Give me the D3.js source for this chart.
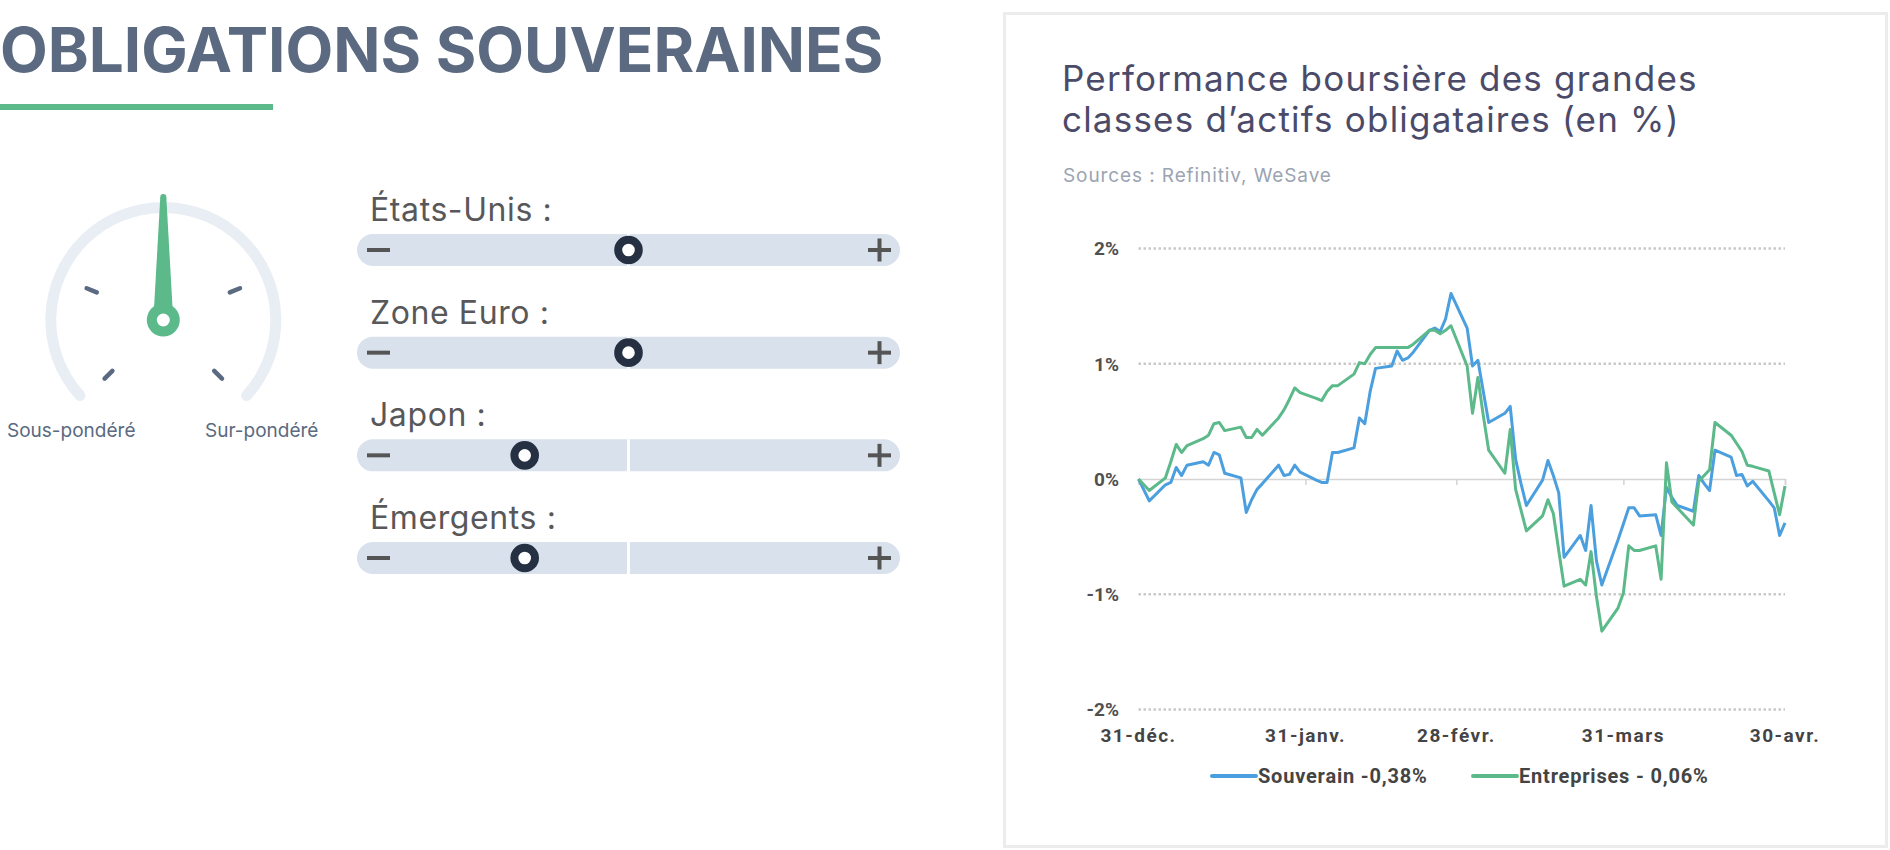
<!DOCTYPE html>
<html>
<head>
<meta charset="utf-8">
<script src="https://cdn.jsdelivr.net/npm/d3@7"></script>
<style>
  body { margin: 0; background: #fff; }
  svg text { font-family: Inter, "Noto Sans", sans-serif; }
  .axis-lbl { font-family: Roboto, Inter, sans-serif; font-weight: 700; }
</style>
</head>
<body>
<svg id="page" width="1890" height="850"></svg>
<script>
// chart data
var dates = ["2020-12-31","2021-01-02","2021-01-05","2021-01-06","2021-01-07","2021-01-08","2021-01-09",
  "2021-01-12","2021-01-13","2021-01-14","2021-01-15","2021-01-16","2021-01-19","2021-01-20","2021-01-21",
  "2021-01-22","2021-01-23","2021-01-26","2021-01-27","2021-01-28","2021-01-29","2021-01-30","2021-02-02",
  "2021-02-03","2021-02-04","2021-02-05","2021-02-06","2021-02-09","2021-02-10","2021-02-11","2021-02-12",
  "2021-02-13","2021-02-16","2021-02-17","2021-02-18","2021-02-19","2021-02-20","2021-02-23","2021-02-24",
  "2021-02-25","2021-02-26","2021-02-27","2021-03-02","2021-03-03","2021-03-04","2021-03-05","2021-03-06",
  "2021-03-09","2021-03-10","2021-03-11","2021-03-12","2021-03-13","2021-03-16","2021-03-17","2021-03-18",
  "2021-03-19","2021-03-20","2021-03-23","2021-03-24","2021-03-25","2021-03-26","2021-03-27","2021-03-30",
  "2021-03-31","2021-04-01","2021-04-02","2021-04-03","2021-04-06","2021-04-07","2021-04-08","2021-04-09",
  "2021-04-10","2021-04-13","2021-04-14","2021-04-15","2021-04-16","2021-04-17","2021-04-20","2021-04-21",
  "2021-04-22","2021-04-23","2021-04-24","2021-04-27","2021-04-28","2021-04-29","2021-04-30"];

var souverain = [0.00,-0.19,-0.05,-0.03,0.10,0.03,0.12,
  0.15,0.12,0.23,0.21,0.05,0.01,-0.29,-0.18,
  -0.09,-0.04,0.12,0.03,0.04,0.12,0.06,-0.01,
  -0.03,-0.03,0.23,0.23,0.27,0.53,0.48,0.76,
  0.96,0.98,1.11,1.03,1.05,1.10,1.29,1.31,
  1.28,1.39,1.61,1.31,0.98,1.03,0.76,0.49,
  0.57,0.63,0.17,-0.04,-0.23,-0.01,0.16,0.03,
  -0.12,-0.68,-0.49,-0.62,-0.23,-0.71,-0.92,-0.53,
  -0.39,-0.25,-0.25,-0.32,-0.31,-0.49,-0.07,-0.16,
  -0.23,-0.28,0.03,-0.04,-0.10,0.25,0.19,0.03,
  0.04,-0.06,-0.02,-0.19,-0.25,-0.49,-0.38];

var entreprises = [0.00,-0.10,0.01,0.15,0.30,0.23,0.29,
  0.35,0.38,0.48,0.49,0.42,0.45,0.36,0.36,
  0.43,0.38,0.53,0.60,0.69,0.79,0.75,0.70,
  0.68,0.76,0.81,0.81,0.91,1.01,1.00,1.08,
  1.14,1.14,1.14,1.14,1.14,1.17,1.29,1.29,
  1.26,1.29,1.33,0.98,0.57,0.88,0.55,0.25,
  0.05,0.43,-0.09,-0.27,-0.45,-0.32,-0.18,-0.30,
  -0.62,-0.93,-0.87,-0.92,-0.63,-1.02,-1.32,-1.12,
  -0.99,-0.58,-0.62,-0.62,-0.58,-0.87,0.14,-0.20,
  -0.25,-0.40,-0.02,0.03,0.08,0.49,0.38,0.31,
  0.24,0.12,0.11,0.07,-0.12,-0.31,-0.06];

var seriesNames = ["Souverain -0,38%", "Entreprises - 0,06%"];
var seriesColors = ["#4c9fdf", "#5bb98a"];
var yTicks = [-2, -1, 0, 1, 2];
var xTicks = ["2020-12-31","2021-01-31","2021-02-28","2021-03-31","2021-04-30"];
var xTickLabels = ["31-déc.","31-janv.","28-févr.","31-mars","30-avr."];

// left panel
var regions = ["États-Unis :", "Zone Euro :", "Japon :", "Émergents :"];
var regionScores = [0, 0, -1, -1];
var gaugeScore = 0;
var gaugeSteps = [-2, -1, 1, 2];
var gaugeLabels = ["Sous-pondéré", "Sur-pondéré"];

var svg = d3.select("#page");
var parse = d3.timeParse("%Y-%m-%d");

// ---- heading
svg.append("text")
  .attr("x", 0)
  .attr("y", 72)
  .attr("style", "font-size:62px;font-weight:700;fill:#5b6a80")
  .text("OBLIGATIONS SOUVERAINES");

svg.append("rect")
  .attr("x", 0)
  .attr("y", 104)
  .attr("width", 273)
  .attr("height", 6)
  .attr("fill", "#5bb98a");

// ---- gauge
var deg = Math.PI / 180;
var gaugeAngle = d3.scaleLinear().domain([-2, 2]).range([-135, 135]);
var gauge = svg.append("g").attr("transform", "translate(163.3,320)");

gauge.append("path")
  .attr("d", d3.arc().innerRadius(107).outerRadius(118)
    .startAngle(gaugeAngle(-2) * deg).endAngle(gaugeAngle(2) * deg).cornerRadius(5.5)())
  .attr("fill", "#e9eef4");

gauge.selectAll(".step").data(gaugeSteps).enter()
  .append("line")
  .attr("class", "step")
  .attr("x1", 0).attr("y1", -72)
  .attr("x2", 0).attr("y2", -83)
  .attr("transform", function(d) { return "rotate(" + gaugeAngle(d) + ")"; })
  .attr("stroke", "#5a6a80")
  .attr("stroke-width", 4.5)
  .attr("stroke-linecap", "round");

var needle = gauge.append("g").attr("transform", "rotate(" + gaugeAngle(gaugeScore) + ")");
needle.append("path")
  .attr("d", "M-3,-123 L3,-123 L9.5,-8 L-9.5,-8 Z")
  .attr("fill", "#5bb98a");
needle.append("circle").attr("cx", 0).attr("cy", -123).attr("r", 3).attr("fill", "#5bb98a");
gauge.append("circle").attr("r", 16.5).attr("fill", "#5bb98a");
gauge.append("circle").attr("r", 6.5).attr("fill", "#fff");

svg.append("text")
  .attr("x", 7).attr("y", 437)
  .attr("style", "font-size:19px;fill:#5a6a80")
  .text(gaugeLabels[0]);
svg.append("text")
  .attr("x", 205).attr("y", 437)
  .attr("style", "font-size:19px;fill:#5a6a80")
  .text(gaugeLabels[1]);

// ---- sliders
var barX = 357, barW = 543, barH = 32;
var knobX = d3.scaleLinear().domain([-2.5, 2.5]).range([369, 888]);
var rowY = d3.scaleLinear().domain([0, 3]).range([234, 542]);

var rows = svg.selectAll(".row").data(regions).enter()
  .append("g")
  .attr("class", "row")
  .attr("transform", function(d, i) { return "translate(0," + rowY(i) + ")"; });

rows.append("text")
  .attr("x", 370).attr("y", -13)
  .attr("style", "font-size:32px;letter-spacing:0.6px;fill:#58585a")
  .text(function(d) { return d; });

rows.append("rect")
  .attr("x", barX).attr("y", 0)
  .attr("width", barW).attr("height", barH)
  .attr("rx", barH / 2)
  .attr("fill", "#d9e1ec");

rows.append("rect")
  .attr("x", knobX(0) - 1.5).attr("y", 0)
  .attr("width", 3).attr("height", barH)
  .attr("fill", "#fff");

rows.append("line")
  .attr("x1", 367).attr("x2", 390)
  .attr("y1", barH / 2).attr("y2", barH / 2)
  .attr("stroke", "#555").attr("stroke-width", 4);
rows.append("line")
  .attr("x1", 868).attr("x2", 891)
  .attr("y1", barH / 2).attr("y2", barH / 2)
  .attr("stroke", "#555").attr("stroke-width", 4);
rows.append("line")
  .attr("x1", 879.5).attr("x2", 879.5)
  .attr("y1", barH / 2 - 11.5).attr("y2", barH / 2 + 11.5)
  .attr("stroke", "#555").attr("stroke-width", 4);

rows.append("circle")
  .attr("cx", function(d, i) { return knobX(regionScores[i]); })
  .attr("cy", barH / 2)
  .attr("r", 10.3)
  .attr("fill", "#fff")
  .attr("stroke", "#253142")
  .attr("stroke-width", 8);

// ---- card
svg.append("rect")
  .attr("x", 1004.5).attr("y", 13.5)
  .attr("width", 882).attr("height", 833)
  .attr("fill", "#fff")
  .attr("stroke", "#ececec")
  .attr("stroke-width", 3);

svg.append("text")
  .attr("x", 1062).attr("y", 91)
  .attr("style", "font-size:35px;letter-spacing:1.2px;fill:#4b4b69")
  .text("Performance boursière des grandes");
svg.append("text")
  .attr("x", 1062).attr("y", 132)
  .attr("style", "font-size:35px;letter-spacing:1.2px;fill:#4b4b69")
  .text("classes d’actifs obligataires (en %)");
svg.append("text")
  .attr("x", 1063).attr("y", 182)
  .attr("style", "font-size:19px;letter-spacing:0.9px;fill:#9ba4b2")
  .text("Sources : Refinitiv, WeSave");

// ---- line chart
var x = d3.scaleTime()
  .domain([parse(xTicks[0]), parse(xTicks[xTicks.length - 1])])
  .range([1138.5, 1785]);
var y = d3.scaleLinear().domain([-2, 2]).range([709.5, 248.5]);

svg.selectAll(".grid").data(yTicks.filter(function(d) { return d != 0; })).enter()
  .append("line")
  .attr("class", "grid")
  .attr("x1", x.range()[0]).attr("x2", x.range()[1])
  .attr("y1", function(d) { return y(d); })
  .attr("y2", function(d) { return y(d); })
  .attr("stroke", "#c9c9c9")
  .attr("stroke-width", 2.5)
  .attr("stroke-dasharray", "2.5,2.5");

svg.selectAll(".ylbl").data(yTicks).enter()
  .append("text")
  .attr("class", "ylbl axis-lbl")
  .attr("x", 1119)
  .attr("y", function(d) { return y(d); })
  .attr("dy", "0.36em")
  .attr("text-anchor", "end")
  .attr("style", "font-size:19px;fill:#505050")
  .text(function(d) { return d + "%"; });

// zero line works as the x axis, ticks pointing down
var xAxis = d3.axisBottom(x)
  .tickValues(xTicks.map(parse))
  .tickSize(6)
  .tickFormat("");
var axisG = svg.append("g")
  .attr("transform", "translate(0," + y(0) + ")")
  .call(xAxis);
axisG.select(".domain").attr("stroke", "#d4d4d4").attr("stroke-width", 1.5);
axisG.selectAll(".tick line").attr("stroke", "#d4d4d4").attr("stroke-width", 1.5);

svg.selectAll(".xlbl").data(xTicks).enter()
  .append("text")
  .attr("class", "xlbl axis-lbl")
  .attr("x", function(d) { return x(parse(d)); })
  .attr("y", 742)
  .attr("text-anchor", "middle")
  .attr("style", "font-size:19px;letter-spacing:1.5px;fill:#444")
  .text(function(d, i) { return xTickLabels[i]; });

var line = d3.line()
  .x(function(d) { return x(d[0]); })
  .y(function(d) { return y(d[1]); });

[souverain, entreprises].forEach(function(vals, s) {
  var pts = dates.map(function(d, i) { return [parse(d), vals[i]]; });
  svg.append("path")
    .datum(pts)
    .attr("d", line)
    .attr("fill", "none")
    .attr("stroke", seriesColors[s])
    .attr("stroke-width", 3)
    .attr("stroke-linejoin", "round");
});

// legend
var legX = [1212, 1473];
seriesNames.forEach(function(name, s) {
  svg.append("line")
    .attr("x1", legX[s]).attr("x2", legX[s] + 44)
    .attr("y1", 776).attr("y2", 776)
    .attr("stroke", seriesColors[s])
    .attr("stroke-width", 4)
    .attr("stroke-linecap", "round");
  svg.append("text")
    .attr("class", "axis-lbl")
    .attr("x", legX[s] + 46).attr("y", 783)
    .attr("style", "font-size:20px;letter-spacing:0.8px;fill:#444")
    .text(name);
});
</script>
</body>
</html>
